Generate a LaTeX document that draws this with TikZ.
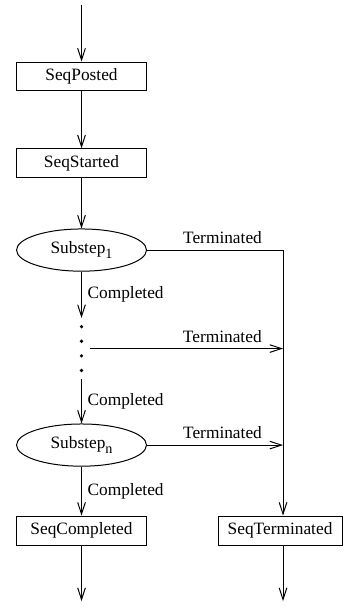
\documentclass[tikz,border=0pt]{standalone}
\usepackage{fontspec}
\setmainfont{Liberation Serif}
\usetikzlibrary{arrows.meta}
\usetikzlibrary{positioning,shapes.geometric}

\newcommand{\stepsub}[1]{\raisebox{-3.2pt}{\fontsize{8.5pt}{9pt}\selectfont #1}}

\tikzset{
    event/.style={draw, rectangle, minimum width=2.74cm, minimum height=0.61cm, inner sep=2pt},
    substep/.style={draw, ellipse, minimum width=2.74cm, minimum height=0.89cm, inner sep=1pt},
    gap/.style={minimum width=0.32cm, minimum height=1.27cm, inner sep=0pt}
}

\begin{document}
\begin{tikzpicture}[node distance=1.83cm,on grid,auto,semithick,
                    >={Straight Barb[length=7pt,width=4.6pt]},
                    font=\fontsize{10.4pt}{12pt}\selectfont]
                \useasboundingbox (-1.719,0.105) rectangle (5.514,-12.673);
                \coordinate (entry) at (0,0);
                \node[event] at (0,-1.508) (posted) {SeqPosted};
                \node[event] [below=of posted] (started) {SeqStarted};
                \node[substep] [below=of started] (sub1) {Substep\stepsub{1}};
                \node[gap] [below=2.077cm of sub1] (dots) {};
                \node[substep] [below=2.035cm of dots] (subn) {Substep\stepsub{n}};
                \node[event] [below=1.803cm of subn] (completed) {SeqCompleted};
                \node[event, minimum width=2.615cm] [right=4.186cm of completed] (terminated) {SeqTerminated};
                \coordinate [right=4.249cm of sub1] (turn);
                \coordinate [below=1.487cm of completed] (out1);
                \coordinate (out2) at (out1 -| turn);
                \foreach \y in {-0.462,-0.154,0.154,0.462}
                    \fill (dots) ++(0,\y) circle (1.1pt);
                \path[->]
                (entry) edge (posted)
                (posted) edge (started)
                (started) edge (sub1)
                (sub1) edge node {Completed} (dots)
                (dots) edge node {Completed} (subn)
                (subn) edge node {Completed} (completed)
                (sub1) edge [-] node [pos=0.555] {Terminated} (turn)
                (turn) edge (turn |- terminated.north)
                (dots) edge node [pos=0.686] {Terminated} (dots -| turn)
                (subn) edge node [pos=0.555] {Terminated} (subn -| turn)
                (completed) edge (out1)
                (terminated.south -| turn) edge (out2);
            \end{tikzpicture}
\end{document}
